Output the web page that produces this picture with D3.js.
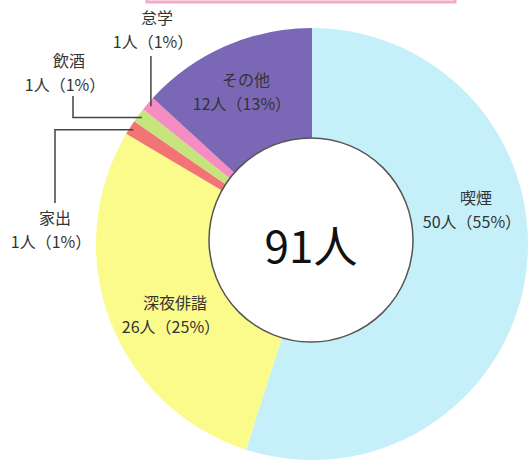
<!DOCTYPE html>
<html>
<head>
<meta charset="utf-8">
<script src="https://cdn.jsdelivr.net/npm/d3@7"></script>
<style>
  html, body { margin: 0; padding: 0; background: #fff; }
  svg { display: block; font-family: "Noto Sans CJK JP", "Noto Sans", sans-serif; }
</style>
</head>
<body>
<div id="chart"></div>
<script>
// data
const categories = ['喫煙', '深夜俳諧', '家出', '飲酒', '怠学', 'その他'];
const counts = [50, 26, 1, 1, 1, 12];
const percentLabels = ['55%', '25%', '1%', '1%', '1%', '13%'];
const sliceColors = ['#c6f0f9', '#fbfb8c', '#f27474', '#c6e47c', '#f58cc2', '#7a67b6'];
const totalLabel = '91人';

const width = 532, height = 464;
const cx = 312, cy = 244, outerR = 216;
const holeX = 311, holeY = 240, holeR = 102;
const lineGap = 23.5;

// label anchors (centre of each text block), line 1 baseline
const labelPos = [
    { x: 476, y: 204, outside: false },
    { x: 175, y: 309, outside: false },
    { x: 55, y: 224, outside: true, lineX: 55, lineY: 203 },
    { x: 69, y: 67, outside: true, lineX: 73, lineY: 96 },
    { x: 157, y: 24, outside: true, lineX: null, lineY: 56 },
    { x: 246, y: 86, outside: false }
];

const svg = d3.select('#chart')
    .append('svg')
    .attr('width', width)
    .attr('height', height);

// top header box edge (cropped)
svg.append('rect')
    .attr('x', 147).attr('y', -20)
    .attr('width', 308).attr('height', 22)
    .attr('fill', 'none')
    .attr('stroke', '#f6a9c6')
    .attr('stroke-width', 3);

const pie = d3.pie().sort(null).value(d => d);
const arcs = pie(counts);

const arc = d3.arc().innerRadius(0).outerRadius(outerR);

const g = svg.append('g')
    .attr('transform', `translate(${cx},${cy})`);

g.selectAll('.slice')
    .data(arcs)
    .enter()
    .append('path')
    .attr('class', 'slice')
    .attr('d', arc)
    .attr('fill', (d, i) => sliceColors[i]);

// centre hole
svg.append('circle')
    .attr('cx', holeX)
    .attr('cy', holeY)
    .attr('r', holeR)
    .attr('fill', '#fff')
    .attr('stroke', '#555')
    .attr('stroke-width', 1.5);

svg.append('text')
    .attr('x', holeX)
    .attr('y', 263)
    .attr('text-anchor', 'middle')
    .attr('fill', '#111')
    .style('font-size', '44px')
    .text(totalLabel);

// leader lines for thin slices
arcs.forEach((d, i) => {
    const p = labelPos[i];
    if (!p.outside) return;
    const mid = (d.startAngle + d.endAngle) / 2;
    const r = outerR - 4;
    const ax = cx + r * Math.sin(mid);
    const ay = cy - r * Math.cos(mid);
    let pts;
    if (p.lineX === null) {
        pts = [[ax, p.lineY], [ax, ay]];
    } else {
        pts = [[p.lineX, p.lineY], [p.lineX, ay], [ax, ay]];
    }
    svg.append('path')
        .attr('d', d3.line()(pts))
        .attr('fill', 'none')
        .attr('stroke', '#444')
        .attr('stroke-width', 1.5);
});

// labels: category name, then count and share
svg.selectAll('.label-name')
    .data(arcs)
    .enter()
    .append('text')
    .attr('class', 'label-name')
    .attr('x', (d, i) => labelPos[i].x)
    .attr('y', (d, i) => labelPos[i].y)
    .attr('text-anchor', 'middle')
    .attr('fill', '#333')
    .style('font-size', '16px')
    .text((d, i) => categories[i]);

svg.selectAll('.label-value')
    .data(arcs)
    .enter()
    .append('text')
    .attr('class', 'label-value')
    .attr('x', (d, i) => labelPos[i].x - 4)
    .attr('y', (d, i) => labelPos[i].y + lineGap)
    .attr('text-anchor', 'middle')
    .attr('fill', '#333')
    .style('font-size', '16px')
    .text((d, i) => `${counts[i]}人（${percentLabels[i]}）`);
</script>
</body>
</html>
